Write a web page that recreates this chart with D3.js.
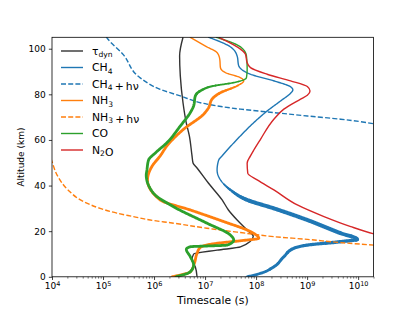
<!DOCTYPE html>
<meta charset="utf-8">
<script src="https://cdn.jsdelivr.net/npm/d3@7"></script>
<style>
  body { margin: 0; background: #fff; }
  text { font-family: "DejaVu Sans", sans-serif; fill: #000; }
</style>
<svg id="chart" width="415" height="311"></svg>
<script>

// timescale (s), altitude (km) pairs
var tauDyn = [[3.70e6,105],[3.17e6,96.8],[3.27e6,88.1],[3.70e6,76.2],[4.29e6,67.4],[4.92e6,61.8],[5.55e6,53.0],[5.81e6,49.9],[6.96e6,47.7],[1.16e7,41.1],[2.16e7,33.7],[2.87e7,29.3],[4.25e7,24.9],[6.68e7,20.5],[8.8e7,17.8],[4.94e7,13.1],[1.72e7,11.7],[5.97e6,10.0],[5.55e6,7.4],[6.45e6,4.3],[6.96e6,0]];
var ch4 = [[1.18e7,105],[3.14e7,100.8],[4.25e7,96.8],[4.57e7,92.5],[5.5e7,90.5],[7.76e7,88.8],[2.23e8,85.9],[4.74e8,83.3],[5.26e8,81.9],[4.74e8,80.5],[3.02e8,77.1],[1.65e8,72.7],[9.02e7,67.6],[4.94e7,61.8],[2.16e7,53.0],[1.85e7,51.2],[1.72e7,46.8],[2.00e7,42.5],[3.14e7,38.1],[6.68e7,33.7],[2.23e8,30.0],[1.01e9,24.9],[4.55e9,19.1],[9.69e9,16.4],[4.55e9,15.4],[1.01e9,13.9],[5.50e8,12.5],[3.50e8,8.8],[2.23e8,4.4],[1.22e8,1.5],[6.68e7,0]];
var ch4Photo = [[1.0e5,108],[1.15e5,105.3],[2.52e5,97.3],[5.36e5,87.2],[1.32e6,82.2],[3.27e6,79.3],[1.09e7,75.7],[4.94e7,73.5],[2.23e8,72.0],[1.01e9,70.5],[4.55e9,69.1],[2.05e10,67.1]];
var nh3 = [[5.14e6,105],[1.09e7,100.8],[1.72e7,98.3],[1.94e7,95.4],[2.00e7,91.7],[2.51e7,89.5],[4.94e7,87.3],[5.73e7,85.9],[4.25e7,83.7],[2.00e7,80.7],[1.37e7,77.9],[1.18e7,74.2],[9.38e6,71.3],[3.80e6,64.7],[1.79e6,57.4],[1.32e6,53.0],[9.22e5,48.6],[7.45e5,42.5],[1.32e6,33.7],[5.14e6,29.3],[2.32e7,24.2],[7.76e7,19.8],[1.13e8,16.9],[4.94e7,15.8],[1.72e7,14.7],[8.08e6,12.9],[6.96e6,10.3],[6.17e6,5.9],[5.14e6,2.2],[2.25e6,0]];
var nh3Photo = [[8e3,58],[1.0e4,50.5],[1.31e4,43.9],[2.06e4,38.1],[4.12e4,33.0],[8.77e4,30.0],[1.87e5,27.9],[3.96e5,26.4],[8.42e5,24.9],[2.42e6,23.5],[1.09e7,21.3],[4.94e7,19.4],[2.23e8,17.6],[1.01e9,16.4],[4.55e9,15.0],[2.05e10,13.9]];
var co = [[1.67e7,105],[4.94e7,100.8],[6.47e7,96.8],[6.68e7,91.0],[6.47e7,87.3],[3.60e7,85.1],[1.48e7,83.7],[8.08e6,81.5],[6.45e6,79.3],[5.97e6,74.9],[5.14e6,72.0],[3.27e6,66.1],[1.79e6,58.8],[1.06e6,54.3],[7.80e5,51.2],[7.25e5,46.8],[7.03e5,44.6],[9.78e5,36.6],[2.42e6,30.7],[1.09e7,23.5],[3.14e7,18.3],[3.65e7,16.1],[2.71e7,13.9],[1.09e7,13.5],[5.14e6,13.2],[4.29e6,12.1],[5.14e6,8.8],[5.97e6,5.2],[5.14e6,2.2],[2.7e6,0]];
var n2o = [[1.85e7,105],[4.94e7,99.8],[6.19e7,97.6],[6.68e7,93.9],[7.76e7,91.7],[1.65e8,88.8],[4.74e8,85.9],[1.01e9,83.4],[1.14e9,81.5],[1.01e9,79.6],[7.45e8,77.9],[3.50e8,73.5],[2.23e8,69.1],[1.22e8,60.3],[9.02e7,55.6],[7.76e7,53.0],[6.68e7,49.8],[6.87e7,45.4],[1.05e8,42.5],[2.23e8,38.1],[6.42e8,31.5],[2.14e9,26.4],[7.16e9,22.0],[2.05e10,18.8],[3.5e10,17.5]];

var labels = ["τ_{dyn}", "CH_4", "CH_4\u2009+\u2009hν", "NH_3", "NH_3\u2009+\u2009hν", "CO", "N_2O"];
var xTicks = [1e4, 1e5, 1e6, 1e7, 1e8, 1e9, 1e10];
var yTicks = [0, 20, 40, 60, 80, 100];

// styles (widths: [altitude, stroke width] for lines that get thicker)
var series = [
  { data: tauDyn,   color: "#333333" },
  { data: ch4,      color: "#1f77b4", widths: [[0,2.8],[14,3.2],[20,4],[33,4],[41,1.4],[105,1.4]] },
  { data: ch4Photo, color: "#1f77b4", dash: "5,2.2" },
  { data: nh3,      color: "#ff7f0e", widths: [[0,2.8],[80,2.8],[85,1.4],[105,1.4]] },
  { data: nh3Photo, color: "#ff7f0e", dash: "5,2.2" },
  { data: co,       color: "#2ca02c", widths: [[0,2.8],[80,2.8],[86,1.4],[105,1.4]] },
  { data: n2o,      color: "#d62728" }
];

var svg = d3.select("svg"),
    width = +svg.attr("width"),
    height = +svg.attr("height");

var pl = 52, pr = 373.5, pt = 37.3, pb = 276.8;

var x = d3.scaleLog().domain([1e4, 2e10]).range([pl, pr]);
var y = d3.scaleLinear().domain([0, 105]).range([pb, pt]);

svg.append("rect").attr("width", width).attr("height", height).attr("fill", "#fff");

svg.append("clipPath").attr("id", "clip")
  .append("rect").attr("x", pl).attr("y", pt).attr("width", pr - pl).attr("height", pb - pt);

var line = d3.line()
  .x(function (d) { return x(d[0]) })
  .y(function (d) { return y(d[1]) })
  .curve(d3.curveMonotoneY);

var plot = svg.append("g").attr("clip-path", "url(#clip)");

series.forEach(function (s) {
  if (!s.widths) {
    plot.append("path")
      .attr("d", line(s.data))
      .attr("fill", "none")
      .attr("stroke", s.color)
      .attr("stroke-width", 1.4)
      .attr("stroke-dasharray", s.dash || null)
      .attr("stroke-linejoin", "round");
    return;
  }
  // width changes with altitude: split the curve into runs of equal width
  var wScale = d3.scaleLinear()
    .domain(s.widths.map(function (w) { return w[0] }))
    .range(s.widths.map(function (w) { return w[1] }))
    .clamp(true);
  var tmp = plot.append("path").attr("d", line(s.data)).attr("fill", "none");
  var node = tmp.node(), L = node.getTotalLength();
  var pts = d3.range(0, L, 1).concat([L]).map(function (l) { return node.getPointAtLength(l) });
  tmp.remove();
  var g = plot.append("g").attr("stroke", s.color).attr("fill", "none")
    .attr("stroke-linecap", "round").attr("stroke-linejoin", "round");
  var run = [pts[0]], runW = null;
  function flush() {
    if (run.length > 1) g.append("path").attr("d", d3.line().x(function (p) { return p.x }).y(function (p) { return p.y })(run)).attr("stroke-width", runW);
  }
  for (var i = 1; i < pts.length; i++) {
    var a = pts[i - 1], b = pts[i];
    var w = Math.round(wScale(y.invert((a.y + b.y) / 2)) * 5) / 5;
    if (runW !== null && w !== runW) { flush(); run = [a]; }
    runW = w;
    run.push(b);
  }
  flush();
});

// frame
svg.append("rect")
  .attr("x", pl).attr("y", pt).attr("width", pr - pl).attr("height", pb - pt)
  .attr("fill", "none").attr("stroke", "#000").attr("stroke-width", 0.8);

// x axis, minor ticks first
var minor = [];
for (var k = 4; k <= 10; k++) for (var m = 2; m <= 9; m++) if (m * Math.pow(10, k) <= 2e10) minor.push(m * Math.pow(10, k));

svg.append("g")
  .attr("transform", "translate(0," + pb + ")")
  .call(d3.axisBottom(x).tickValues(minor).tickSize(1.8).tickFormat(""))
  .call(function (g) { g.select(".domain").remove(); g.selectAll("line").attr("stroke-width", 0.55); });

var xAxis = svg.append("g")
  .attr("transform", "translate(0," + pb + ")")
  .call(d3.axisBottom(x).tickValues(xTicks).tickSize(3.15).tickPadding(3.15).tickFormat(""));
xAxis.select(".domain").remove();
xAxis.selectAll("line").attr("stroke-width", 0.75);
xAxis.selectAll("text").each(function (d) {
  var t = d3.select(this).attr("font-size", 9).attr("font-family", null).text("");
  t.append("tspan").text("10");
  t.append("tspan").attr("dy", -3.6).attr("font-size", 6.5).text(Math.round(Math.log10(d)));
});

var yAxis = svg.append("g")
  .attr("transform", "translate(" + pl + ",0)")
  .call(d3.axisLeft(y).tickValues(yTicks).tickSize(3.15).tickPadding(3.15));
yAxis.select(".domain").remove();
yAxis.selectAll("line").attr("stroke-width", 0.75);
yAxis.selectAll("text").attr("font-size", 9).attr("font-family", null);

// axis labels
svg.append("text")
  .attr("x", (pl + pr) / 2).attr("y", 304)
  .attr("text-anchor", "middle").attr("font-size", 10.8)
  .text("Timescale (s)");

svg.append("text")
  .attr("transform", "translate(24," + (pt + pb) / 2 + ") rotate(-90)")
  .attr("text-anchor", "middle").attr("font-size", 9)
  .text("Altitude (km)");

// legend
function richText(t, str, size) {
  var parts = str.split(/_\{([^}]*)\}|_(\w)/);
  for (var i = 0; i < parts.length; i++) {
    if (parts[i] === undefined || parts[i] === "") continue;
    var isSub = (i % 3) !== 0;
    if (isSub) {
      t.append("tspan").attr("dy", size * 0.22).attr("font-size", size * 0.7).text(parts[i]);
      t.append("tspan").attr("dy", -size * 0.22).text("");
    } else {
      t.append("tspan").text(parts[i]);
    }
  }
}

var legend = svg.append("g");
labels.forEach(function (lab, i) {
  var s = series[i], cy = 51 + i * 16.5;
  legend.append("line")
    .attr("x1", 61).attr("x2", 83).attr("y1", cy).attr("y2", cy)
    .attr("stroke", s.color).attr("stroke-width", 1.4)
    .attr("stroke-dasharray", s.dash || null);
  var t = legend.append("text")
    .attr("x", 92).attr("y", cy + 3.9)
    .attr("font-size", 10.8)
    .attr("xml:space", "preserve");
  richText(t, lab, 10.8);
});

</script>
